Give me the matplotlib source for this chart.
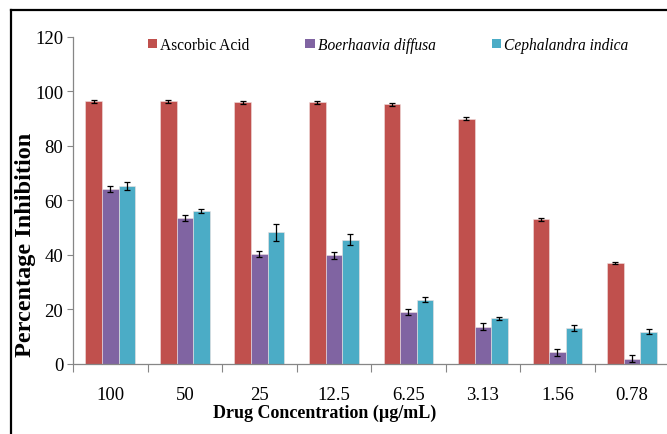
import numpy as np
import matplotlib.pyplot as plt
from matplotlib.patches import Patch
from matplotlib.lines import Line2D

plt.rcParams['font.family'] = ['Liberation Serif', 'DejaVu Serif']

# data
concentrations = ['100', '50', '25', '12.5', '6.25', '3.13', '1.56', '0.78']
ascorbic = [96.3, 96.3, 96.0, 96.0, 95.3, 90.0, 53.0, 37.0]
ascorbic_err = [0.5, 0.5, 0.5, 0.5, 0.6, 0.5, 0.5, 0.5]
boerhaavia = [64.2, 53.7, 40.2, 39.8, 19.0, 13.7, 4.3, 2.0]
boerhaavia_err = [1.1, 1.1, 1.1, 1.2, 1.2, 1.2, 1.3, 1.2]
cephalandra = [65.3, 56.1, 48.3, 45.6, 23.5, 16.8, 13.2, 11.9]
cephalandra_err = [1.6, 0.6, 3.2, 2.0, 0.9, 0.6, 1.2, 0.9]

series = [
    ("Ascorbic Acid", ascorbic, ascorbic_err, '#C0504D', 'normal'),
    ("Boerhaavia diffusa", boerhaavia, boerhaavia_err, '#8064A2', 'italic'),
    ("Cephalandra indica", cephalandra, cephalandra_err, '#4BACC6', 'italic'),
]

fig = plt.figure(figsize=(6.67, 4.35), dpi=100)
ax = fig.add_axes([0.1094, 0.161, 0.894, 0.752])

x = np.arange(len(concentrations)) + 0.5
w = 0.222
for k, (name, vals, errs, col, _) in enumerate(series):
    ax.bar(x + (k - 1) * w, vals, w, color=col, edgecolor='#f0e0e0', linewidth=0.4,
           yerr=errs, error_kw=dict(ecolor='black', elinewidth=0.9, capsize=2.5, capthick=0.9))

ax.set_xlim(0, len(concentrations))
ax.set_ylim(0, 120)
ax.set_yticks(range(0, 121, 20))
ax.set_xticks(np.arange(len(concentrations) + 1))
ax.set_xticklabels([])
ax.set_xticks(x, minor=True)
ax.set_xticklabels(concentrations, minor=True)
ax.tick_params(axis='x', which='major', length=6, color='#868686', width=0.8)
ax.tick_params(axis='x', which='minor', length=0, labelsize=13.5, pad=16)
ax.tick_params(axis='y', length=4, color='#868686', width=0.8, labelsize=13.5, pad=3)
for s in ['top', 'right']:
    ax.spines[s].set_visible(False)
for s in ['left', 'bottom']:
    ax.spines[s].set_color('#868686')
    ax.spines[s].set_linewidth(0.9)

fig.text(325 / 667, 1 - 413 / 435, 'Drug Concentration (µg/mL)', ha='center', va='center',
         fontsize=13, fontweight='bold')
fig.text(26 / 667, 1 - 245 / 435, 'Percentage Inhibition', ha='center', va='center',
         rotation=90, fontsize=17.5, fontweight='bold')

handles = [Patch(facecolor=c, edgecolor='none') for _, _, _, c, _ in series]
leg = fig.legend(handles, [s[0] for s in series], loc='center', ncol=3,
                 bbox_to_anchor=(388 / 667, 1 - 46 / 435), frameon=False,
                 fontsize=11.2, handlelength=0.6, handleheight=0.6, handletextpad=0.2,
                 columnspacing=3.6)
for t, s in zip(leg.get_texts(), series):
    t.set_fontstyle(s[4])

# outer frame (top and left edges visible)
fig.add_artist(Line2D([11 / 667, 11 / 667], [0, 1 - 11 / 435], color='black', lw=1.6,
                      transform=fig.transFigure))
fig.add_artist(Line2D([11 / 667, 1], [1 - 11 / 435, 1 - 11 / 435], color='black', lw=1.6,
                      transform=fig.transFigure))

fig.savefig('out.png', dpi=100)
